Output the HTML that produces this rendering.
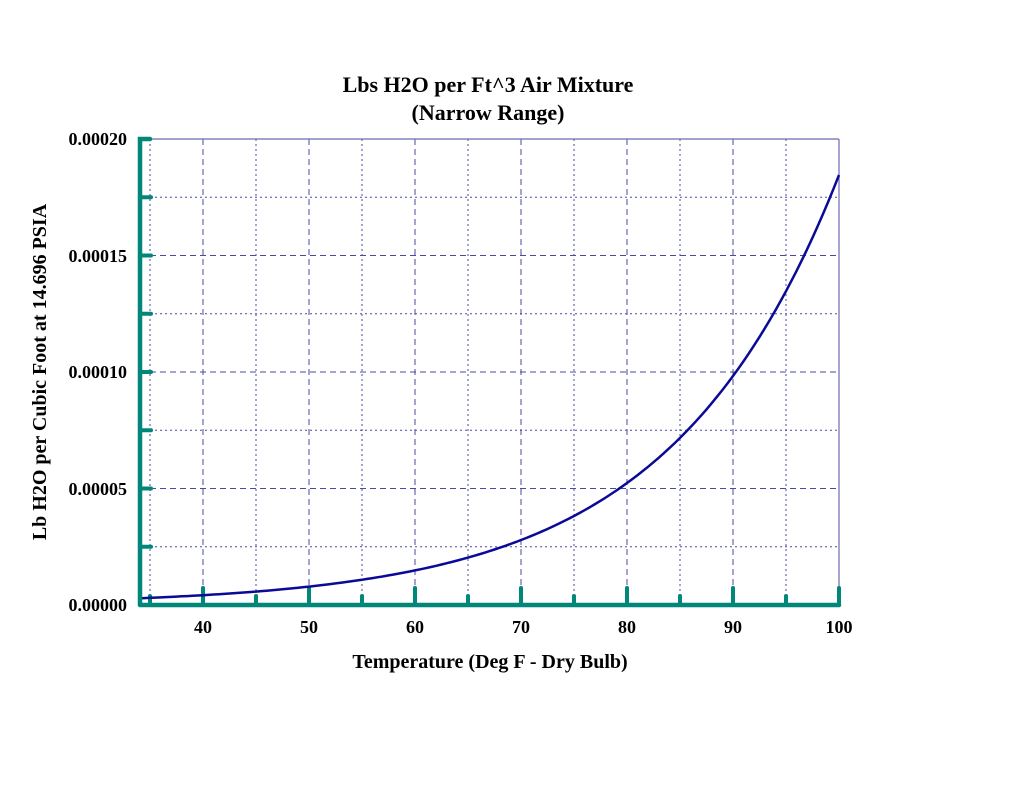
<!DOCTYPE html>
<html><head><meta charset="utf-8"><style>
html,body{margin:0;padding:0;background:#fff;}
svg text{font-family:"Liberation Serif",serif;font-weight:bold;fill:#000;}
</style></head><body>
<svg id="s" width="1024" height="791" xmlns="http://www.w3.org/2000/svg">
<text x="488" y="92" font-size="22" text-anchor="middle">Lbs H2O per Ft^3 Air Mixture</text>
<text x="488" y="120" font-size="22" text-anchor="middle">(Narrow Range)</text>
<g id="grid" stroke="#4a4aa0" stroke-width="1" fill="none"></g>
<line x1="140" y1="139" x2="839" y2="139" stroke="#6a6ab0" stroke-width="1.2"/>
<line x1="839" y1="139" x2="839" y2="605" stroke="#6a6ab0" stroke-width="1.2"/>
<g id="ticks" stroke="#00877a" stroke-width="4" stroke-linecap="round"></g>
<path id="curve" fill="none" stroke="#0a0a96" stroke-width="2.5"/>
<path d="M140,605 L839,605 M140,605 L140,139 L150,139" stroke="#00877a" stroke-width="4.5" fill="none" stroke-linecap="round"/>
<g font-size="18" text-anchor="end">
<text x="127" y="145">0.00020</text>
<text x="127" y="262">0.00015</text>
<text x="127" y="378">0.00010</text>
<text x="127" y="495">0.00005</text>
<text x="127" y="611">0.00000</text>
</g>
<g id="xl" font-size="18" text-anchor="middle"></g>
<text x="490" y="668" font-size="20" text-anchor="middle">Temperature (Deg F - Dry Bulb)</text>
<text transform="translate(46,372) rotate(-90)" font-size="20" text-anchor="middle">Lb H2O per Cubic Foot at 14.696 PSIA</text>
</svg>
<script>
var ns="http://www.w3.org/2000/svg";
function X(t){return 839-(100-t)*10.6;}
function el(p,n,a,txt){var e=document.createElementNS(ns,n);for(var k in a)e.setAttribute(k,a[k]);if(txt)e.textContent=txt;document.getElementById(p).appendChild(e);}
for(var t=35;t<100;t+=5){var x=X(t);el("grid","line",{x1:x,y1:139,x2:x,y2:605,"stroke-dasharray":t%10==0?"6,4":"2,3"});}
for(var i=1;i<8;i++){var y=605-i*58.25;el("grid","line",{x1:140,y1:y,x2:839,y2:y,"stroke-dasharray":i%2==0?"6,4":"2,3"});}
for(var t=35;t<=100;t+=5){var x=X(t);el("ticks","line",{x1:x,y1:605,x2:x,y2:t%10==0?588:596});}
for(var i=1;i<8;i++){var y=605-i*58.25;el("ticks","line",{x1:140,y1:y,x2:151,y2:y});}
for(var t=40;t<=100;t+=10){el("xl","text",{x:X(t),y:633},""+t);}
var d="";for(var t=34;t<=100.01;t+=0.5){var v=430*Math.exp(-0.063*(100-t));d+=(d?"L":"M")+X(t).toFixed(1)+","+(605-v).toFixed(1);}
document.getElementById("curve").setAttribute("d",d);
</script>
</body></html>
